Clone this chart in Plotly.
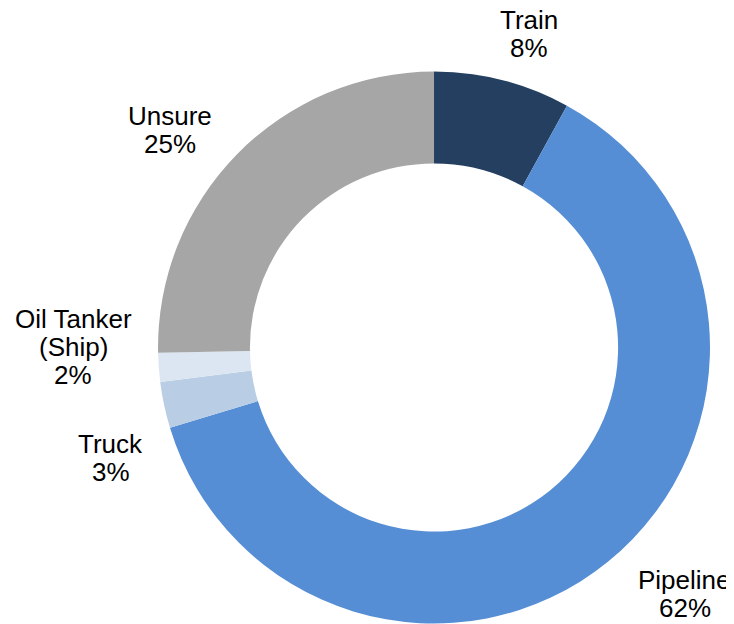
import plotly.graph_objects as go

# Transport mode shares
modes = ['Train', 'Pipeline', 'Truck', 'Oil Tanker<br>(Ship)', 'Unsure']
shares = [8.0, 62.3, 2.7, 1.7, 25.3]
colors = ['#243F60', '#558ED5', '#B9CDE5', '#DCE6F2', '#A6A6A6']

# where each category label sits (paper coords, centre of text block)
label_x = [0.7098, 0.9217, 0.1403, 0.0892, 0.2207]
label_y = [0.9583, 0.0609, 0.2788, 0.4567, 0.8045]

LINE_GAP = 28  # px between text lines, tighter than plotly's default

fig = go.Figure()

fig.add_trace(go.Pie(
    labels=modes,
    values=shares,
    hole=0.667,
    sort=False,
    direction='clockwise',
    rotation=0,
    marker=dict(colors=colors, line=dict(width=0)),
    textinfo='none',
    hoverinfo='label+percent',
    showlegend=False,
    domain=dict(x=[0.2044, 0.9564], y=[0.0136, 0.8982]),
))

# Category labels with rounded percentages, one annotation per line
total = sum(shares)
for name, v, lx, ly in zip(modes, shares, label_x, label_y):
    lines = name.split('<br>') + [f"{round(v / total * 100)}%"]
    n = len(lines)
    for i, line in enumerate(lines):
        fig.add_annotation(
            x=lx, y=ly, xref='paper', yref='paper',
            xanchor='center', yanchor='middle',
            yshift=((n - 1) / 2 - i) * LINE_GAP,
            text=line,
            showarrow=False,
            font=dict(family='Liberation Sans, Arial, sans-serif', size=26, color='black'),
        )

fig.update_layout(
    width=734,
    height=624,
    margin=dict(l=0, r=0, t=0, b=0),
    paper_bgcolor='white',
    plot_bgcolor='white',
)

fig.write_html("out.html")
